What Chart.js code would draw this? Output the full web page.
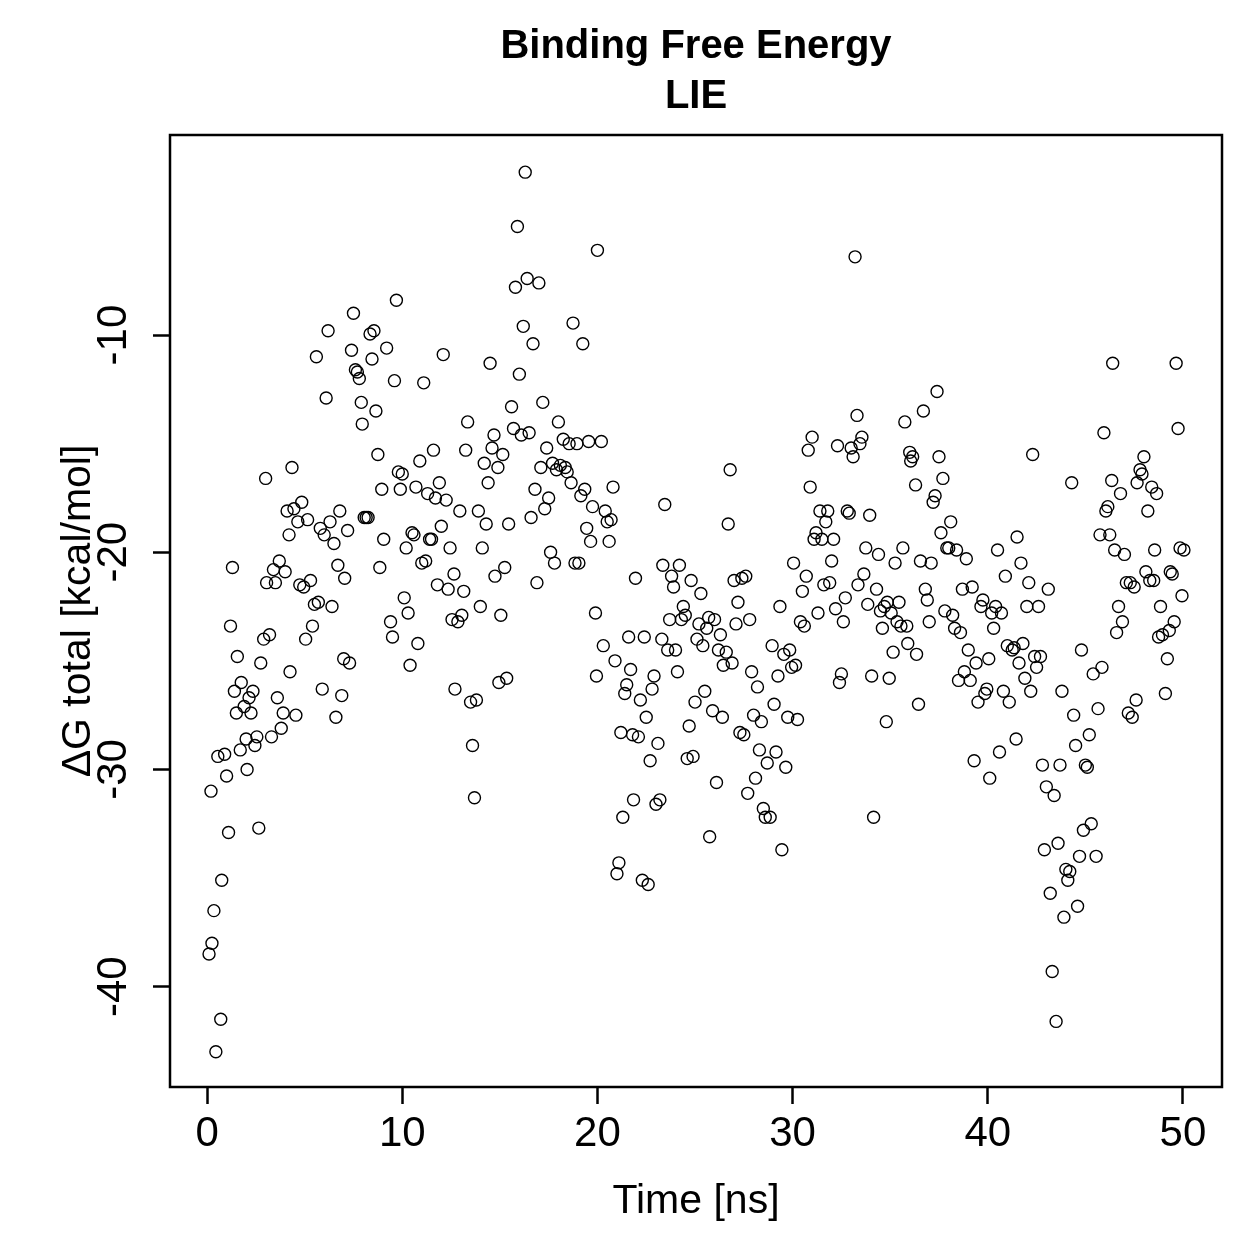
<!DOCTYPE html>
<html>
<head>
<meta charset="utf-8">
<title>Binding Free Energy - LIE</title>
<script src="https://cdn.jsdelivr.net/npm/chart.js@4.4.1/dist/chart.umd.min.js"></script>
<style>
  html, body { margin: 0; padding: 0; background: #fff; }
  canvas { display: block; }
</style>
</head>
<body>
<canvas id="lieChart" width="1259" height="1259"></canvas>
<script>
// Simulation time [ns]
const time = [
    0.1, 0.2, 0.25, 0.35, 0.45, 0.55, 0.7, 0.75, 0.9, 1.0,
    1.1, 1.2, 1.3, 1.4, 1.5, 1.55, 1.7, 1.75, 1.9, 2.0,
    2.05, 2.15, 2.25, 2.35, 2.45, 2.55, 2.65, 2.75, 2.9, 3.0,
    3.05, 3.2, 3.3, 3.4, 3.5, 3.6, 3.7, 3.8, 3.9, 4.0,
    4.1, 4.2, 4.25, 4.35, 4.45, 4.55, 4.65, 4.75, 4.85, 4.95,
    5.05, 5.15, 5.3, 5.4, 5.5, 5.6, 5.7, 5.8, 5.9, 6.0,
    6.1, 6.2, 6.3, 6.4, 6.5, 6.6, 6.7, 6.8, 6.9, 7.0,
    7.05, 7.2, 7.3, 7.4, 7.5, 7.6, 7.7, 7.8, 7.9, 7.95,
    8.05, 8.15, 8.25, 8.35, 8.45, 8.55, 8.65, 8.75, 8.85, 8.95,
    9.05, 9.2, 9.4, 9.5, 9.6, 9.7, 9.8, 9.9, 10.0, 10.1,
    10.2, 10.3, 10.4, 10.5, 10.6, 10.7, 10.8, 10.9, 11.0, 11.1,
    11.2, 11.3, 11.4, 11.5, 11.6, 11.7, 11.8, 11.9, 12.0, 12.1,
    12.25, 12.35, 12.45, 12.55, 12.65, 12.7, 12.85, 12.95, 13.05, 13.15,
    13.25, 13.35, 13.5, 13.6, 13.7, 13.8, 13.9, 14.0, 14.1, 14.2,
    14.3, 14.4, 14.5, 14.6, 14.7, 14.75, 14.9, 14.95, 15.05, 15.15,
    15.25, 15.35, 15.45, 15.6, 15.7, 15.8, 15.9, 16.0, 16.1, 16.2,
    16.3, 16.4, 16.5, 16.6, 16.7, 16.8, 16.9, 17.0, 17.1, 17.2,
    17.3, 17.4, 17.5, 17.6, 17.7, 17.8, 17.9, 18.0, 18.1, 18.25,
    18.35, 18.45, 18.55, 18.65, 18.75, 18.85, 18.95, 19.05, 19.15, 19.25,
    19.35, 19.45, 19.55, 19.65, 19.75, 19.9, 19.95, 20.0, 20.2, 20.3,
    20.4, 20.5, 20.6, 20.7, 20.8, 20.9, 21.0, 21.1, 21.2, 21.3,
    21.4, 21.5, 21.6, 21.7, 21.8, 21.85, 21.95, 22.1, 22.2, 22.3,
    22.4, 22.5, 22.6, 22.7, 22.8, 22.9, 23.0, 23.1, 23.2, 23.3,
    23.35, 23.45, 23.6, 23.7, 23.8, 23.9, 24.0, 24.1, 24.2, 24.3,
    24.4, 24.5, 24.6, 24.7, 24.8, 24.9, 25.0, 25.1, 25.2, 25.3,
    25.4, 25.5, 25.6, 25.7, 25.75, 25.9, 26.0, 26.1, 26.2, 26.3,
    26.4, 26.45, 26.6, 26.7, 26.8, 26.9, 27.0, 27.1, 27.2, 27.3,
    27.4, 27.5, 27.6, 27.7, 27.8, 27.9, 28.0, 28.1, 28.2, 28.3,
    28.4, 28.5, 28.6, 28.7, 28.85, 28.95, 29.05, 29.15, 29.25, 29.35,
    29.45, 29.55, 29.65, 29.75, 29.85, 29.95, 30.05, 30.15, 30.25, 30.4,
    30.5, 30.6, 30.7, 30.8, 30.9, 31.0, 31.1, 31.2, 31.3, 31.4,
    31.5, 31.6, 31.7, 31.8, 31.9, 32.0, 32.1, 32.2, 32.3, 32.4,
    32.5, 32.6, 32.7, 32.8, 32.9, 33.0, 33.1, 33.2, 33.3, 33.35,
    33.45, 33.55, 33.65, 33.75, 33.85, 33.95, 34.05, 34.15, 34.3, 34.4,
    34.5, 34.6, 34.7, 34.8, 34.85, 34.95, 35.05, 35.15, 35.25, 35.35,
    35.45, 35.55, 35.65, 35.75, 35.85, 35.9, 36.0, 36.05, 36.15, 36.3,
    36.35, 36.45, 36.55, 36.7, 36.8, 36.9, 37.0, 37.1, 37.2, 37.3,
    37.4, 37.5, 37.6, 37.7, 37.8, 37.9, 38.0, 38.1, 38.2, 38.3,
    38.4, 38.5, 38.6, 38.7, 38.8, 38.9, 39.0, 39.1, 39.2, 39.3,
    39.4, 39.5, 39.65, 39.75, 39.85, 39.95, 40.05, 40.1, 40.2, 40.3,
    40.4, 40.5, 40.6, 40.7, 40.8, 40.9, 41.0, 41.1, 41.25, 41.35,
    41.45, 41.5, 41.6, 41.7, 41.8, 41.9, 42.0, 42.1, 42.2, 42.3,
    42.4, 42.5, 42.6, 42.7, 42.8, 42.9, 43.0, 43.1, 43.2, 43.3,
    43.4, 43.5, 43.6, 43.7, 43.8, 43.9, 44.0, 44.1, 44.2, 44.3,
    44.4, 44.5, 44.6, 44.7, 44.8, 44.9, 45.0, 45.1, 45.2, 45.3,
    45.4, 45.55, 45.65, 45.75, 45.85, 45.95, 46.05, 46.15, 46.25, 46.35,
    46.4, 46.5, 46.6, 46.7, 46.8, 46.9, 47.0, 47.1, 47.2, 47.3,
    47.4, 47.5, 47.6, 47.65, 47.8, 47.9, 48.0, 48.1, 48.2, 48.3,
    48.4, 48.5, 48.55, 48.65, 48.75, 48.85, 48.95, 49.1, 49.2, 49.3,
    49.35, 49.45, 49.55, 49.65, 49.75, 49.85, 49.95, 50.05
];

// Delta G total [kcal/mol], same order as time
const deltaG = [
    -38.5, -31.0, -38.0, -36.5, -43.0, -29.4, -41.5, -35.1, -29.3, -30.3,
    -32.9, -23.4, -20.7, -26.4, -27.4, -24.8, -29.1, -26.0, -27.1, -28.6,
    -30.0, -26.7, -27.4, -26.4, -28.9, -28.5, -32.7, -25.1, -24.0, -16.6,
    -21.4, -23.8, -28.5, -20.8, -21.4, -26.7, -20.4, -28.1, -27.4, -20.9,
    -18.1, -19.2, -25.5, -16.1, -18.0, -27.5, -18.6, -21.5, -17.7, -21.6,
    -24.0, -18.5, -21.3, -23.4, -22.4, -11.0, -22.3, -18.9, -26.3, -19.2,
    -12.9, -9.8, -18.6, -22.5, -19.6, -27.6, -20.6, -18.1, -26.6, -24.9,
    -21.2, -19.0, -25.1, -10.7, -9.0, -11.6, -11.7, -12.0, -13.1, -14.1,
    -18.4, -18.4, -18.4, -9.95, -11.1, -9.8, -13.5, -15.5, -20.7, -17.1,
    -19.4, -10.6, -23.2, -23.9, -12.1, -8.4, -16.3, -17.1, -16.4, -22.1,
    -19.8, -22.8, -25.2, -19.1, -19.2, -17.0, -24.2, -15.8, -20.5, -12.2,
    -20.4, -17.3, -19.4, -19.4, -15.3, -17.5, -21.5, -16.8, -18.8, -10.9,
    -17.6, -21.7, -19.8, -23.1, -21.0, -26.3, -23.2, -18.1, -22.9, -21.8,
    -15.3, -14.0, -26.9, -28.9, -31.3, -26.8, -18.1, -22.5, -19.8, -15.9,
    -18.7, -16.8, -11.3, -15.2, -14.6, -21.1, -16.1, -26.0, -22.9, -15.5,
    -20.7, -25.8, -18.7, -13.3, -14.3, -7.8, -5.0, -11.8, -14.6, -9.6,
    -2.5, -7.4, -14.5, -18.4, -10.4, -17.1, -21.4, -7.6, -16.1, -13.1,
    -18.0, -15.2, -17.5, -20.0, -15.9, -20.5, -16.2, -14.0, -16.0, -14.8,
    -16.1, -16.3, -15.0, -16.8, -9.45, -20.5, -15.0, -20.5, -17.4, -10.4,
    -17.1, -18.9, -14.9, -19.5, -17.9, -22.8, -25.7, -6.1, -14.9, -24.3,
    -18.1, -18.6, -19.5, -18.5, -17.0, -25.0, -34.8, -34.3, -28.3, -32.2,
    -26.5, -26.1, -23.9, -25.4, -28.4, -31.4, -21.2, -28.5, -26.8, -35.1,
    -23.9, -27.6, -35.3, -29.6, -26.3, -25.7, -31.6, -28.8, -31.4, -24.0,
    -20.6, -17.8, -24.5, -23.1, -21.1, -21.6, -24.5, -25.5, -20.6, -23.1,
    -22.5, -22.9, -29.5, -28.0, -21.3, -29.4, -26.9, -24.0, -23.3, -21.9,
    -24.3, -26.4, -23.5, -23.0, -33.1, -27.3, -23.1, -30.6, -24.5, -23.8,
    -27.6, -25.2, -24.6, -18.7, -16.2, -25.1, -21.3, -23.3, -22.3, -28.3,
    -21.2, -28.4, -21.1, -31.1, -23.1, -25.5, -27.5, -30.4, -26.2, -29.1,
    -27.8, -31.8, -32.2, -29.7, -32.2, -24.3, -27.0, -29.2, -25.7, -22.5,
    -33.7, -24.7, -29.9, -27.6, -24.5, -25.3, -20.5, -25.2, -27.7, -23.2,
    -21.8, -23.4, -21.1, -15.3, -17.0, -14.7, -19.4, -19.1, -22.8, -18.1,
    -19.4, -21.5, -18.6, -18.1, -21.4, -20.4, -19.4, -22.6, -15.1, -26.0,
    -25.6, -23.2, -22.1, -18.1, -18.2, -15.2, -15.6, -6.4, -13.7, -21.5,
    -15.0, -14.7, -21.0, -19.8, -22.4, -18.3, -25.7, -32.2, -21.7, -20.1,
    -22.7, -23.5, -22.5, -27.8, -22.3, -25.8, -22.8, -24.6, -20.5, -23.2,
    -22.3, -23.4, -19.8, -14.0, -23.4, -24.2, -15.4, -15.8, -15.6, -16.9,
    -24.7, -27.0, -20.4, -13.5, -21.7, -22.2, -23.2, -20.5, -17.7, -17.4,
    -12.6, -15.6, -19.1, -16.6, -22.7, -19.8, -19.8, -18.6, -22.9, -23.5,
    -19.9, -25.9, -23.7, -21.7, -25.5, -20.3, -24.5, -25.9, -21.6, -29.6,
    -25.1, -26.9, -22.5, -22.2, -26.5, -26.3, -24.9, -30.4, -22.8, -23.5,
    -22.5, -19.9, -29.2, -22.8, -26.4, -21.1, -24.3, -26.9, -24.5, -24.4,
    -28.6, -19.3, -25.1, -20.5, -24.2, -25.8, -22.5, -21.4, -26.4, -15.5,
    -24.8, -25.3, -22.5, -24.8, -29.8, -33.7, -30.8, -21.7, -35.7, -39.3,
    -31.2, -41.6, -33.4, -29.8, -26.4, -36.8, -34.6, -35.1, -34.7, -16.8,
    -27.5, -28.9, -36.3, -34.0, -24.5, -32.8, -29.8, -29.9, -28.4, -32.5,
    -25.6, -34.0, -27.2, -19.2, -25.3, -14.5, -18.1, -17.9, -19.2, -16.7,
    -11.3, -19.9, -23.7, -22.5, -17.3, -23.2, -20.1, -21.4, -27.4, -21.4,
    -27.6, -21.6, -26.8, -16.8, -16.2, -16.4, -15.6, -20.9, -18.1, -21.3,
    -17.0, -21.3, -19.9, -17.3, -23.9, -22.5, -23.8, -26.5, -24.9, -23.6,
    -20.9, -21.0, -23.2, -11.3, -14.3, -19.8, -22.0, -19.9
];

const xTicks = [0, 10, 20, 30, 40, 50];
const yTicks = [-40, -30, -20, -10];

const fontFamily = '"Liberation Sans", Arial, Helvetica, sans-serif';

// caja alrededor del área del gráfico (como box() en R)
const boxPlugin = {
    id: 'plotBox',
    afterDraw(chart) {
        const { ctx, chartArea } = chart;
        ctx.save();
        ctx.strokeStyle = '#000';
        ctx.lineWidth = 2.5;
        ctx.strokeRect(chartArea.left, chartArea.top,
            chartArea.right - chartArea.left, chartArea.bottom - chartArea.top);
        ctx.restore();
    },
};

const points = time.map((t, i) => ({ x: t, y: deltaG[i] }));

const ctx = document.getElementById('lieChart').getContext('2d');

new Chart(ctx, {
    type: 'scatter',
    data: {
        datasets: [
            {
                data: points,
                pointStyle: 'circle',
                pointRadius: 6,
                pointBorderWidth: 1.4,
                borderColor: '#000',
                backgroundColor: 'rgba(0,0,0,0)',
            },
        ],
    },
    options: {
        responsive: false,
        animation: false,
        events: [],
        devicePixelRatio: 1,
        layout: { padding: { left: 0, top: 0, right: 37, bottom: 0 } },
        plugins: {
            legend: { display: false },
            tooltip: { enabled: false },
            title: {
                display: true,
                fullSize: false, // centrado sobre el área del gráfico
                text: ['Binding Free Energy', 'LIE'],
                color: '#000',
                font: { family: fontFamily, size: 40, weight: 'bold', lineHeight: 1.25 },
                padding: { top: 22, bottom: 13 },
            },
        },
        scales: {
            x: {
                type: 'linear',
                min: -1.9,
                max: 52.0,
                afterFit: scale => { scale.height = 172; },
                afterBuildTicks: scale => {
                    scale.ticks = xTicks.map(v => ({ value: v }));
                },
                ticks: {
                    color: '#000',
                    padding: 5,
                    maxRotation: 0,
                    font: { family: fontFamily, size: 42 },
                    callback: v => String(v),
                },
                grid: {
                    drawOnChartArea: false,
                    drawTicks: true,
                    tickLength: 17,
                    tickColor: '#000',
                    tickWidth: 2.5,
                },
                border: { display: false },
                title: {
                    display: true,
                    text: 'Time [ns]',
                    color: '#000',
                    font: { family: fontFamily, size: 41 },
                    padding: { top: 0, bottom: 33 },
                },
            },
            y: {
                type: 'linear',
                min: -44.62,
                max: -0.79,
                afterFit: scale => { scale.width = 170; },
                afterBuildTicks: scale => {
                    scale.ticks = yTicks.map(v => ({ value: v }));
                },
                ticks: {
                    color: '#000',
                    padding: 8,
                    minRotation: 90,
                    maxRotation: 90,
                    crossAlign: 'center',
                    font: { family: fontFamily, size: 42 },
                    callback: v => String(v),
                },
                grid: {
                    drawOnChartArea: false,
                    drawTicks: true,
                    tickLength: 17,
                    tickColor: '#000',
                    tickWidth: 2.5,
                },
                border: { display: false },
                title: {
                    display: true,
                    text: 'ΔG total [kcal/mol]',
                    color: '#000',
                    font: { family: fontFamily, size: 41 },
                    padding: { top: 54, bottom: 0 },
                },
            },
        },
    },
    plugins: [boxPlugin],
});
</script>
</body>
</html>
